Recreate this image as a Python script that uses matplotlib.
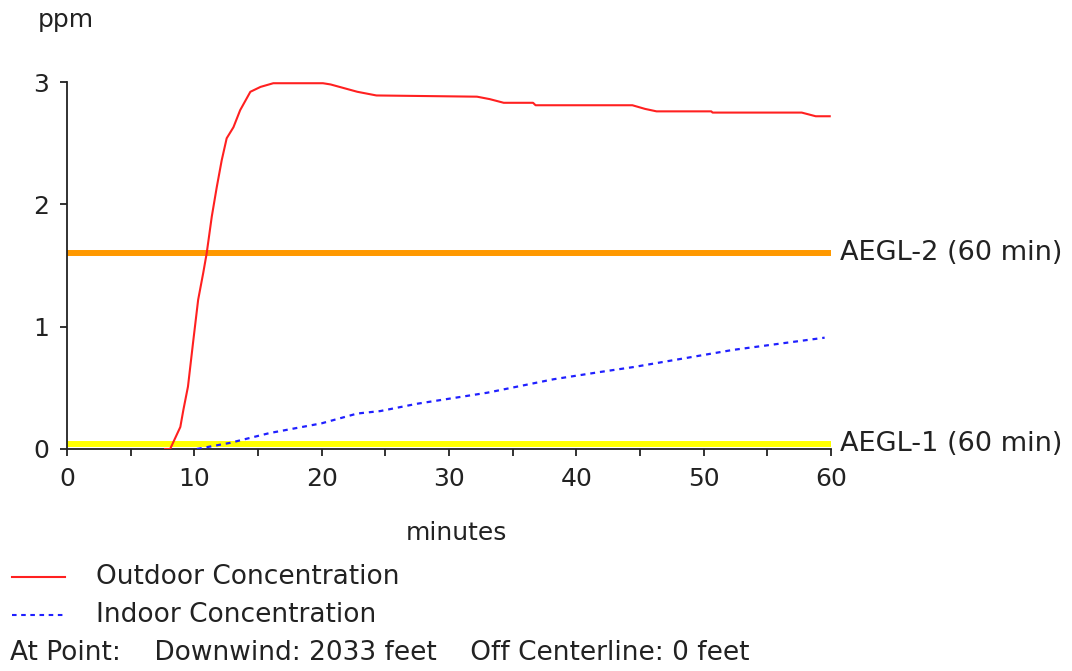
import matplotlib
matplotlib.use("Agg")
import matplotlib.pyplot as plt
from matplotlib.lines import Line2D

# Outdoor concentration (ppm) vs minutes
out_t = [7.7, 8.1, 8.9, 9.14, 9.5, 9.9, 10.3, 10.7, 10.97, 11.37, 11.76, 12.15,
         12.54, 13.07, 13.6, 14.4, 15.2, 16.2, 20.1, 20.7, 22.8, 24.3, 32.2, 33.2,
         34.3, 36.6, 36.8, 44.4, 45.4, 46.3, 50.6, 50.7, 57.7, 58.8, 59.9]
out_ppm = [0, 0.0, 0.18, 0.32, 0.51, 0.87, 1.22, 1.44, 1.60, 1.90, 2.14, 2.36,
           2.54, 2.63, 2.77, 2.92, 2.96, 2.99, 2.99, 2.98, 2.92, 2.89, 2.88, 2.86,
           2.83, 2.83, 2.81, 2.81, 2.78, 2.76, 2.76, 2.75, 2.75, 2.72, 2.72]

# Indoor concentration (ppm) vs minutes
in_t = [10.2, 12.8, 15.9, 20.0, 22.8, 24.6, 27.5, 33.0, 38.2, 41.9, 44.5, 52.3, 59.5]
in_ppm = [0.0, 0.05, 0.13, 0.21, 0.29, 0.31, 0.37, 0.46, 0.57, 0.63, 0.67, 0.81, 0.91]

aegl_names = ["AEGL-2 (60 min)", "AEGL-1 (60 min)"]
aegl_values = [1.6, 0.04]
aegl_colors = ["#FF9900", "#FFFF00"]

x_ticks = [0, 10, 20, 30, 40, 50, 60]
y_ticks = [0, 1, 2, 3]

fig = plt.figure(figsize=(10.72, 6.71), dpi=100)
ax = fig.add_axes([67 / 1072, 1 - 449 / 671, (831 - 67) / 1072, (449 - 82) / 671])

for val, col, name in zip(aegl_values, aegl_colors, aegl_names):
    ax.plot([0, 60], [val, val], color=col, linewidth=4.3, solid_capstyle="butt", zorder=1)
    ax.annotate(name, xy=(60, val), xytext=(6.5, 0), textcoords="offset points",
                va="center", ha="left", fontsize=19.5, color="#222222", annotation_clip=False)

ax.plot(out_t, out_ppm, color="#FF2020", linewidth=1.5, zorder=3)
ax.plot(in_t, in_ppm, color="#2020FF", linewidth=1.6, linestyle=(0, (2.2, 2.2)), zorder=3)

ax.set_xlim(0, 60)
ax.set_ylim(0, 3)
ax.set_xticks(x_ticks)
ax.set_xticks(range(0, 61, 5), minor=True)
ax.set_yticks(y_ticks)
for side in ["top", "right"]:
    ax.spines[side].set_visible(False)
for side in ["left", "bottom"]:
    ax.spines[side].set_color("#222222")
    ax.spines[side].set_linewidth(1.3)
ax.tick_params(axis="both", which="both", direction="out", length=5, width=1.3,
               color="#222222", labelsize=18, labelcolor="#222222")
ax.tick_params(axis="y", pad=8)
ax.tick_params(axis="x", pad=8)

fig.text(38 / 1072, 1 - 20 / 671, "ppm", fontsize=18, color="#222222", va="center", ha="left")
fig.text(456 / 1072, 1 - 533 / 671, "minutes", fontsize=18, color="#222222", va="center", ha="center")

# legend drawn by hand below the axes
leg_y = [577, 615]
leg_lines = [("#FF2020", "-", "Outdoor Concentration"), ("#2020FF", (0, (2.2, 2.2)), "Indoor Concentration")]
for y, (col, ls, label) in zip(leg_y, leg_lines):
    fig.add_artist(Line2D([12 / 1072, 65 / 1072], [1 - y / 671, 1 - y / 671],
                          color=col, linestyle=ls, linewidth=1.5, transform=fig.transFigure))
    fig.text(96 / 1072, 1 - y / 671, label, fontsize=19, color="#222222", va="center", ha="left")

fig.text(10 / 1072, 1 - 653 / 671, "At Point:    Downwind: 2033 feet    Off Centerline: 0 feet",
         fontsize=19, color="#222222", va="center", ha="left")

fig.savefig("out.png", dpi=100)
plt.close(fig)
